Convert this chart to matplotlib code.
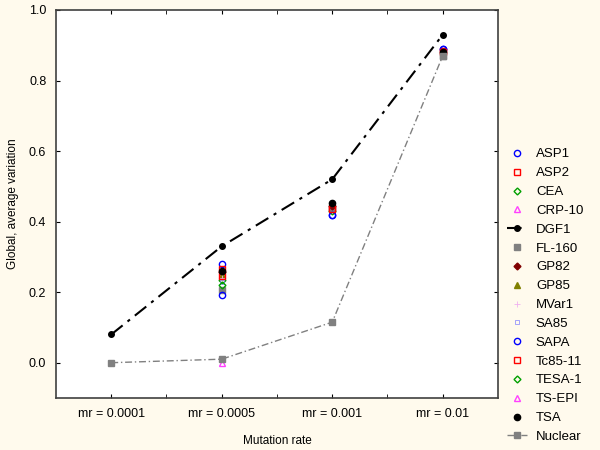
import numpy as np
import matplotlib
matplotlib.use("Agg")
import matplotlib.pyplot as plt

plt.rcParams['font.family'] = ['Liberation Sans', 'DejaVu Sans']

# categories on the x axis
rates = ['mr = 0.0001', 'mr = 0.0005', 'mr = 0.001', 'mr = 0.01']
xpos = [1, 2, 3, 4]

# scattered genes: (x index, value)
genes = ['ASP1', 'ASP2', 'CEA', 'CRP-10', 'DGF1', 'FL-160', 'GP82', 'GP85',
         'MVar1', 'SA85', 'SAPA', 'Tc85-11', 'TESA-1', 'TS-EPI', 'TSA']
gene_x = {
    'ASP1':    [2, 3, 4],
    'ASP2':    [2, 3, 4],
    'CEA':     [2, 3],
    'CRP-10':  [2],
    'FL-160':  [2, 3, 4],
    'GP82':    [2, 3],
    'GP85':    [2],
    'MVar1':   [2],
    'SA85':    [2],
    'SAPA':    [2, 3, 4],
    'Tc85-11': [2, 3, 4],
    'TESA-1':  [2],
    'TS-EPI':  [2],
    'TSA':     [2, 3, 4],
}
gene_y = {
    'ASP1':    [0.280, 0.420, 0.890],
    'ASP2':    [0.265, 0.440, 0.885],
    'CEA':     [0.235, 0.430],
    'CRP-10':  [0.250],
    'FL-160':  [0.205, 0.440, 0.870],
    'GP82':    [0.258, 0.445],
    'GP85':    [0.250],
    'MVar1':   [0.240],
    'SA85':    [0.230],
    'SAPA':    [0.192, 0.420, 0.890],
    'Tc85-11': [0.245, 0.435, 0.880],
    'TESA-1':  [0.220],
    'TS-EPI':  [0.000],
    'TSA':     [0.260, 0.452, 0.880],
}

# lines
dgf1 = [0.08, 0.33, 0.52, 0.93]
nuclear = [0.0, 0.01, 0.115, 0.87]

styles = {
    'ASP1':    dict(marker='o', mfc='none', mec='blue'),
    'ASP2':    dict(marker='s', mfc='none', mec='red'),
    'CEA':     dict(marker='D', mfc='none', mec='#00a000', ms=3.5),
    'CRP-10':  dict(marker='^', mfc='none', mec='#ff40ff'),
    'FL-160':  dict(marker='s', mfc='#808080', mec='#808080'),
    'GP82':    dict(marker='D', mfc='#800000', mec='#800000', ms=3.5),
    'GP85':    dict(marker='^', mfc='#808000', mec='#808000'),
    'MVar1':   dict(marker='+', mfc='none', mec='#f0b0f0', mew=0.6),
    'SA85':    dict(marker='s', mfc='none', mec='#8080ff', mew=0.5, ms=3.5),
    'SAPA':    dict(marker='o', mfc='none', mec='blue'),
    'Tc85-11': dict(marker='s', mfc='none', mec='red'),
    'TESA-1':  dict(marker='D', mfc='none', mec='#00a000', ms=3.5),
    'TS-EPI':  dict(marker='^', mfc='none', mec='#ff40ff'),
    'TSA':     dict(marker='o', mfc='black', mec='black'),
}

fig = plt.figure(figsize=(6, 4.5), dpi=100, facecolor='#fffaed')
ax = fig.add_axes([0.0933, 0.1156, 0.7367, 0.8622])
ax.set_facecolor('white')

handles = {}
for g in genes:
    if g == 'DGF1':
        h, = ax.plot(xpos, dgf1, color='black', ls=(0, (7, 3, 1.5, 3)), lw=1.5,
                     marker='o', ms=4)
    else:
        st = dict(ms=4.5, mew=1)
        st.update(styles[g])
        h, = ax.plot(gene_x[g], gene_y[g], ls='none', **st)
    handles[g] = h
hn, = ax.plot(xpos, nuclear, color='#808080', ls=(0, (5, 2, 1, 2)), lw=1,
              marker='s', ms=4.5)

ax.set_xlim(0.5, 4.5)
ax.set_ylim(-0.1, 1.0)
ax.set_xticks(xpos)
ax.set_xticklabels(rates)
ax.set_xticks(np.arange(1.5, 4.5, 1.0), minor=True)
ax.set_yticks(np.arange(0.0, 1.01, 0.2))
ax.set_yticklabels(['%.1f' % v for v in np.arange(0.0, 1.01, 0.2)])
ax.tick_params(axis='both', direction='in', labelsize=9, length=3, top=True,
               right=True, pad=7)
ax.tick_params(which='minor', direction='in', length=3, top=True)
ax.set_xlabel('Mutation rate', fontsize=8.5, labelpad=11)
ax.set_ylabel('Global, average variation', fontsize=8.5, labelpad=7)
for sp in ax.spines.values():
    sp.set_color('#404040')
    sp.set_linewidth(1.2)

leg = fig.legend([handles[g] for g in genes] + [hn], genes + ['Nuclear'],
                 loc='upper left', bbox_to_anchor=(0.825, 0.697), frameon=False,
                 fontsize=9.5, handlelength=1.5, labelspacing=0.5,
                 handletextpad=0.7)

fig.savefig('out.png', dpi=100, facecolor=fig.get_facecolor())
